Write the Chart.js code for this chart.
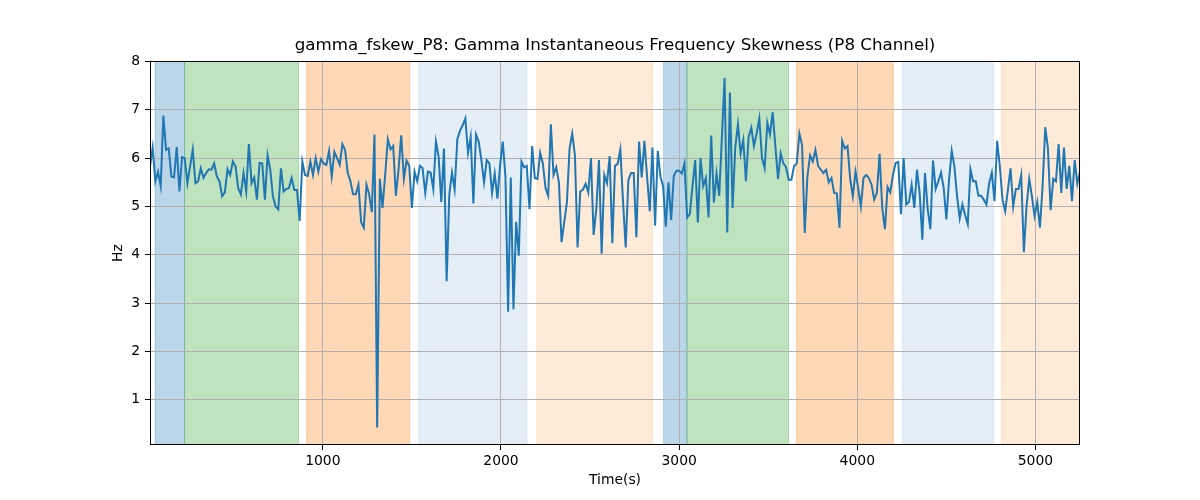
<!DOCTYPE html>
<html>
<head>
<meta charset="utf-8"/>
<script src="https://cdn.jsdelivr.net/npm/chart.js"></script>
<style>
  body { margin: 0; background: #ffffff; }
</style>
</head>
<body>
<canvas id="myChart" width="1200" height="500"></canvas>
<script>
  // sampling clock of the series (seconds)
  var t0 = 30;
  var dt = 15;

  var values = [
    5.83, 6.22, 5.52, 5.72, 5.42, 6.88, 6.17, 6.2, 5.62, 5.6, 6.23, 5.31, 6.02, 6.0, 5.48, 5.83, 6.18, 5.48, 5.52, 5.79,
    5.59, 5.69, 5.77, 5.76, 5.89, 5.62, 5.52, 5.21, 5.29, 5.77, 5.65, 5.93, 5.83, 5.38, 5.25, 5.69, 5.31, 6.29, 5.48, 5.6,
    5.14, 5.9, 5.89, 5.14, 6.06, 5.76, 5.21, 5.0, 4.94, 5.79, 5.31, 5.36, 5.38, 5.59, 5.34, 5.34, 4.7, 5.93, 5.65,
    5.63, 5.93, 5.65, 6.0, 5.72, 5.98, 5.89, 5.86, 6.15, 5.62, 6.13, 6.0, 5.86, 6.29, 6.17, 5.69, 5.52, 5.25, 5.25, 5.45,
    4.67, 4.56, 5.45, 5.25, 4.88, 6.49, 0.42, 5.57, 4.97, 5.65, 6.39, 6.18, 6.25, 5.22, 5.76, 6.47, 5.57, 5.95, 5.84, 4.97,
    5.72, 5.52, 5.84, 5.79, 5.28, 5.72, 5.7, 5.36, 6.34, 6.03, 5.09, 6.2, 3.45, 5.25, 5.7, 5.35, 6.39,
    6.57, 6.68, 6.82, 6.11, 6.44, 5.06, 6.49, 6.34, 5.96, 5.5, 5.96, 5.89, 5.28, 5.68, 5.16, 5.86, 6.34, 5.62, 2.82, 5.6,
    2.87, 4.68, 3.98, 5.93, 5.81, 5.84, 4.94, 6.25, 5.59, 5.57, 6.11, 5.89, 5.38, 5.22, 6.7, 5.65, 5.81, 5.5, 4.26, 4.67,
    5.08, 6.2, 6.51, 6.06, 4.15, 5.31, 5.35, 5.47, 5.29, 6.0, 4.41, 4.94, 5.96, 4.02, 5.65, 5.48,
    6.04, 4.24, 5.84, 5.88, 6.18, 5.1, 4.15, 5.55, 5.69, 5.69, 4.36, 6.34, 5.6, 6.36, 5.62, 4.9, 6.22, 4.6, 6.15, 5.62,
    5.42, 4.58, 5.5, 4.72, 5.63, 5.74, 5.74, 5.68, 5.89, 4.77, 4.84, 5.42, 5.96, 4.67, 6.0, 5.42, 5.59, 4.77, 6.47, 5.08,
    5.68, 5.22, 6.44, 7.66, 4.46, 7.36, 4.97, 6.22, 6.7, 6.09, 6.37, 5.52, 6.44, 6.63, 6.25, 6.51, 6.82,
    6.0, 5.79, 6.73, 6.49, 6.95, 6.25, 5.57, 6.1, 5.89, 5.81, 5.55, 5.55, 5.83, 5.89, 6.51, 6.27, 4.45, 5.62, 6.06, 5.93,
    6.17, 5.84, 5.76, 5.69, 5.76, 5.5, 5.59, 5.28, 5.27, 4.56, 6.36, 6.2, 6.25, 5.57, 5.21, 5.72, 5.38, 5.0, 5.59, 5.65,
    5.59, 5.45, 5.14, 5.28, 6.09, 4.97, 4.53, 5.4, 5.29, 5.65, 5.9, 5.92,
    4.84, 6.0, 5.04, 5.09, 5.45, 4.97, 5.76, 5.28, 4.31, 5.69, 4.95, 4.53, 5.95, 5.36, 5.52, 5.7, 5.38, 4.73, 5.55, 6.15,
    5.83, 5.21, 4.75, 5.04, 4.82, 4.63, 5.77, 5.52, 5.52, 5.22, 5.22, 5.14, 5.04, 5.48, 5.7, 5.11, 6.36, 5.83, 5.14, 4.9,
    5.33, 5.79, 5.0, 5.36, 5.36, 5.65, 4.05, 5.0, 5.57, 5.21, 4.8, 5.09, 4.56, 5.42, 6.64, 6.2, 4.92, 5.57, 5.52, 6.29,
    5.28, 6.22, 5.36, 5.84, 5.11, 5.96, 5.47, 5.72
  ];

  var xTicks = [1000, 2000, 3000, 4000, 5000];
  var yTicks = [1, 2, 3, 4, 5, 6, 7, 8];

  // shaded state intervals
  var spanStart = [59, 224, 909, 1539, 2201, 2913, 3044, 3659, 4254, 4810];
  var spanEnd   = [224, 864, 1488, 2145, 2850, 3044, 3614, 4202, 4764, 5250];
  var spanColor = [
    "rgba(31, 119, 180, 0.3)", "rgba(44, 160, 44, 0.3)", "rgba(255, 127, 14, 0.3)",
    "rgba(31, 119, 180, 0.12)", "rgba(255, 127, 14, 0.16)",
    "rgba(31, 119, 180, 0.3)", "rgba(44, 160, 44, 0.3)", "rgba(255, 127, 14, 0.3)",
    "rgba(31, 119, 180, 0.12)", "rgba(255, 127, 14, 0.16)"
  ];

  var points = values.map(function (v, i) { return { x: t0 + i * dt, y: v }; });
  var tLast = t0 + (values.length - 1) * dt;

  var spansPlugin = {
    id: "spans",
    beforeDraw: function (chart) {
      var ctx = chart.ctx, area = chart.chartArea, x = chart.scales.x;
      ctx.save();
      ctx.beginPath();
      ctx.rect(area.left, area.top, area.right - area.left, area.bottom - area.top);
      ctx.clip();
      for (var i = 0; i < spanStart.length; i++) {
        var x1 = x.getPixelForValue(spanStart[i]);
        var x2 = x.getPixelForValue(spanEnd[i]);
        ctx.fillStyle = spanColor[i];
        ctx.fillRect(x1, area.top, x2 - x1, area.bottom - area.top);
        ctx.strokeStyle = spanColor[i];
        ctx.lineWidth = 1;
        ctx.strokeRect(x1, area.top, x2 - x1, area.bottom - area.top);
      }
      ctx.restore();
    },
    afterDraw: function (chart) {
      var ctx = chart.ctx, a = chart.chartArea;
      ctx.save();
      ctx.strokeStyle = "#000";
      ctx.lineWidth = 1;
      ctx.strokeRect(Math.round(a.left) + 0.5, Math.round(a.top) + 0.5,
        Math.round(a.right - a.left) - 1, Math.round(a.bottom - a.top) - 1);
      ctx.restore();
    }
  };

  Chart.defaults.font.family = "'DejaVu Sans', sans-serif";
  Chart.defaults.color = "#000";

  var ctx = document.getElementById("myChart");
  var myChart = new Chart(ctx, {
    type: "line",
    data: {
      datasets: [{
        data: points,
        borderColor: "#1f77b4",
        borderWidth: 2,
        pointRadius: 0,
        tension: 0,
        fill: false
      }]
    },
    options: {
      responsive: false,
      animation: false,
      layout: { padding: { left: 0, right: 120, top: 0, bottom: 0 } },
      plugins: {
        legend: { display: false },
        tooltip: { enabled: false },
        title: {
          display: true,
          fullSize: false,
          text: "gamma_fskew_P8: Gamma Instantaneous Frequency Skewness (P8 Channel)",
          font: { size: 16.7, weight: "normal" },
          color: "#000",
          padding: { top: 36, bottom: 5 }
        }
      },
      scales: {
        x: {
          type: "linear",
          min: t0,
          max: tLast,
          afterBuildTicks: function (s) { s.ticks = xTicks.map(function (v) { return { value: v }; }); },
          afterFit: function (s) { s.height = 55; },
          ticks: { font: { size: 13.9 }, padding: 3, maxRotation: 0, callback: function (v) { return String(v); } },
          grid: { color: "#b0b0b0", lineWidth: 1, tickColor: "#000", tickLength: 5 },
          border: { display: false },
          title: { display: true, text: "Time(s)", font: { size: 13.9 }, padding: { top: 0, bottom: 11 } }
        },
        y: {
          min: 0.06,
          max: 8.01,
          afterBuildTicks: function (s) { s.ticks = yTicks.map(function (v) { return { value: v }; }); },
          afterFit: function (s) { s.width = 150; },
          ticks: { font: { size: 13.9 }, padding: 5, callback: function (v) { return String(v); } },
          grid: { color: "#b0b0b0", lineWidth: 1, tickColor: "#000", tickLength: 5 },
          border: { display: false },
          title: { display: true, text: "Hz", font: { size: 13.9 }, padding: { top: 110, bottom: 0 } }
        }
      }
    },
    plugins: [spansPlugin]
  });
</script>
</body>
</html>
